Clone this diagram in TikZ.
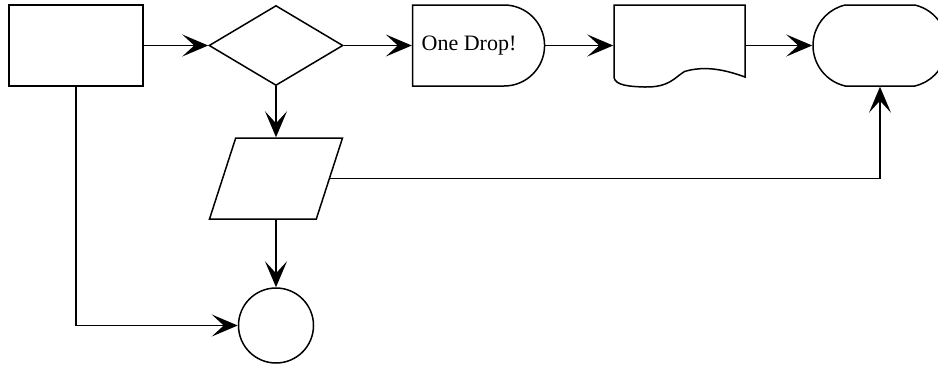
\documentclass[tikz,border=0pt]{standalone}
\usepackage{fontspec}
\setmainfont{Liberation Serif}
\usetikzlibrary{shapes.geometric,shapes.misc,arrows.meta}

\begin{document}
\begin{tikzpicture}[x=1pt,y=-1pt,line width=1.5pt,
	chart/.style={draw, inner sep=0pt, minimum height=81pt},
	flow/.style={-{Stealth[length=26pt,width=22pt,inset=12pt]}}]
	\useasboundingbox (0,0) rectangle (938,368);
	% top row of boxes
	\node[chart, rectangle, minimum width=134pt] (start) at (76,45.5) {};
	\node[chart, diamond, aspect=1.675, minimum width=134pt, minimum height=80pt] (test) at (276,45.5) {};
	\node[chart, rounded rectangle, rounded rectangle west arc=none, minimum width=132pt,
		font=\fontsize{22}{26}\selectfont] (drop) at (478,45.5) {\hspace*{-18pt}One Drop!};
	\node[inner sep=0pt, minimum width=131pt, minimum height=81pt] (doc) at (679.5,45.5) {};
	\node[chart, rounded rectangle, rounded rectangle arc length=154, minimum width=134pt] (end) at (880,45.5) {};
	% document outline with wavy bottom
	\draw[shift={(doc.center)}] (-65.5,-40.5) -- (65.5,-40.5) -- (65.5,31.5)
		.. controls (45,24) and (25,20) .. (5,26)
		.. controls (-5,32) and (-10,42) .. (-35,41.5)
		.. controls (-50,41) and (-64,40) .. (-65.5,32) -- cycle;
	% input and stop below
	\node[chart, inner sep=2pt, trapezium, trapezium left angle=72, trapezium right angle=108,
		trapezium stretches=true, minimum width=133pt] (input) at (276,178.5) {};
	\node[draw, circle, inner sep=0pt, minimum size=75pt] (stop) at (276,325.5) {};
	% connectors
	\draw[flow] (start.east) -- (test.west);
	\draw[flow] (test.east) -- (drop.west);
	\draw[flow] (drop.east) -- (doc.west);
	\draw[flow] (doc.east) -- (end.west);
	\draw[flow] (test.south) -- (input.north);
	\draw[flow] (input.south) -- (stop.north);
	\draw[flow] (input.east) -| (end.south);
	\draw[flow] (start.south) |- (stop.west);
\end{tikzpicture}
\end{document}
